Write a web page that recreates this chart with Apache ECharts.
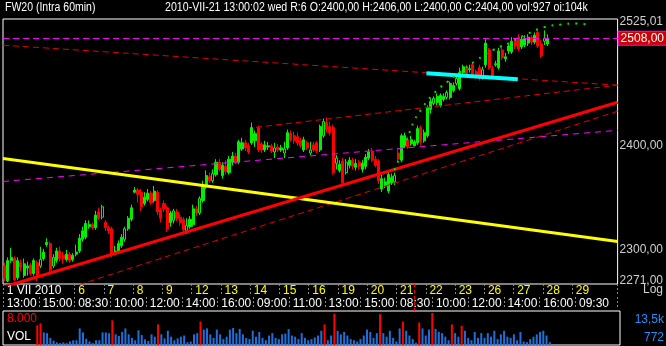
<!DOCTYPE html>
<html><head><meta charset="utf-8">
<script src="https://cdn.jsdelivr.net/npm/echarts@6/dist/echarts.min.js"></script>
<style>html,body{margin:0;padding:0;background:#000}#c{width:666px;height:346px}</style>
</head><body><div id="c"></div>
<script>
// ---- categories (trading calendar, July 2010) ----
const tradingDays = [1,2,5,6,7,8,9,12,13,14,15,16,19,20,21,22,23,26,27,28,29,30];
const sessionHours = ['08:30','09:00','10:00','11:00','12:00','13:00','14:00','15:00','16:00'];
const futureHours = ['08:30','09:30','10:30','11:30','12:30','13:30','14:30','15:30','16:30'];
const firstBarHour = '13:00';
const firstFutureDay = 29;
const totalSlots = 189;
const firstDateLabel = '1 VII 2010';

// ---- 60 min candles ----
const opens = [2285,2271,2290,2292,2274,2288,2276,2283,2286,2278,2288,2285,2292,2305,2306,2285,2290,2299,2295,2291,2296,2291,2296,2299,2310,2312,2322,2324,2321,2336,
2331,2326,2321,2320,2297,2299,2304,2310,2320,2329,2355,2357,2355,2344,2348,2354,2347,2355,2338,2344,2340,2326,2328,2336,2331,2329,2318,2322,2324,2339,
2335,2347,2360,2370,2366,2372,2384,2371,2380,2374,2384,2390,2384,2397,2403,2400,2403,2405,2418,2402,2396,2399,2400,2394,2399,2396,2393,2398,2412,2410,
2409,2405,2396,2403,2393,2401,2403,2396,2410,2423,2419,2418,2383,2376,2385,2374,2381,2386,2379,2384,2377,2380,2388,2395,2387,2385,2358,2361,2356,2364,
2365,2393,2386,2400,2406,2402,2400,2403,2418,2405,2410,2436,2442,2443,2440,2446,2448,2448,2455,2462,2457,2473,2478,2476,2481,2474,2478,2469,2481,2496,
2477,2481,2478,2496,2487,2495,2494,2505,2509,2499,2501,2503,2509,2504,2514,2502,2505,2502];
const highs = [2288,2293,2302,2294,2293,2291,2292,2289,2288,2292,2290,2303,2301,2311,2308,2296,2302,2303,2298,2300,2298,2297,2305,2315,2322,2328,2328,2326,2337,2340,
2343,2328,2323,2322,2304,2309,2315,2322,2332,2343,2360,2359,2358,2355,2358,2356,2361,2357,2340,2347,2342,2337,2339,2339,2334,2331,2330,2332,2343,2342,
2351,2366,2376,2374,2377,2387,2387,2384,2386,2390,2394,2393,2406,2408,2406,2403,2423,2415,2420,2404,2405,2404,2402,2403,2402,2401,2404,2416,2415,2414,
2413,2408,2409,2405,2404,2404,2405,2421,2427,2428,2424,2421,2391,2386,2388,2387,2389,2388,2387,2386,2386,2392,2397,2398,2390,2387,2372,2369,2376,2373,
2374,2398,2412,2413,2409,2410,2406,2420,2420,2416,2440,2447,2449,2452,2452,2452,2455,2464,2463,2469,2478,2481,2481,2481,2484,2476,2481,2479,2507,2498,
2480,2485,2498,2499,2493,2502,2509,2508,2512,2510,2511,2512,2511,2514,2516,2506,2516,2512];
const lows = [2271,2270,2288,2271,2272,2280,2274,2276,2276,2276,2271,2283,2290,2303,2279,2283,2288,2289,2287,2289,2288,2289,2294,2297,2308,2310,2320,2319,2319,2328,
2329,2318,2315,2293,2295,2297,2302,2308,2318,2327,2354,2345,2337,2342,2346,2343,2345,2333,2326,2336,2317,2322,2325,2327,2323,2316,2315,2320,2322,2332,
2333,2345,2358,2364,2364,2370,2375,2368,2372,2372,2381,2382,2382,2395,2395,2392,2401,2399,2394,2393,2394,2396,2393,2388,2394,2394,2388,2396,2404,2402,
2400,2398,2394,2396,2391,2394,2393,2394,2408,2413,2410,2372,2377,2374,2362,2372,2378,2377,2376,2377,2374,2377,2386,2384,2379,2363,2355,2359,2354,2362,
2362,2385,2384,2398,2397,2400,2400,2401,2401,2403,2408,2432,2440,2440,2438,2444,2446,2446,2453,2460,2455,2470,2470,2473,2468,2467,2465,2466,2478,2476,
2468,2479,2476,2486,2484,2492,2492,2497,2495,2497,2499,2500,2501,2502,2498,2488,2501,2500];
const closes = [2273,2290,2293,2272,2290,2284,2287,2285,2278,2290,2276,2291,2298,2307,2281,2293,2299,2292,2292,2296,2290,2295,2298,2311,2318,2325,2324,2321,2333,2330,
2341,2321,2318,2296,2299,2306,2312,2320,2330,2340,2357,2353,2341,2350,2354,2345,2356,2336,2330,2339,2320,2335,2337,2330,2326,2319,2323,2329,2339,2335,
2349,2361,2371,2366,2373,2384,2377,2381,2375,2387,2390,2384,2404,2403,2398,2394,2418,2412,2396,2396,2401,2400,2395,2398,2396,2398,2397,2413,2406,2405,
2403,2400,2406,2398,2396,2396,2395,2419,2424,2416,2413,2374,2388,2382,2364,2384,2386,2380,2383,2380,2383,2389,2394,2386,2381,2366,2368,2365,2372,2369,
2371,2387,2410,2410,2399,2406,2404,2417,2404,2413,2438,2444,2447,2449,2450,2449,2453,2462,2460,2467,2473,2479,2472,2477,2470,2470,2467,2476,2503,2478,
2470,2482,2495,2488,2489,2500,2505,2500,2497,2507,2508,2509,2504,2511,2500,2490,2508,2508];
const hollowBars = [11,15,30,37,52,56,60,64,83,86,94,98,102,105,120,132,136,139,147,166];

// ---- volume ----
const volumes = [null,null,null,null,null,null,null,null,null,null,8300,9100,5300,5000,3000,1800,1100,800,1100,800,1500,2000,2000,7000,5300,2600,1500,800,2000,2000,
5300,5300,5000,10400,4500,3800,5500,7000,4500,3000,2000,6200,4200,2400,1700,4500,3500,8700,4500,2800,6000,3500,2000,2800,3500,4000,1200,1500,4500,5000,
9900,6500,7000,4500,3000,6500,4500,2500,3500,6500,7200,5000,6800,4500,3000,2500,6000,3500,5500,3000,2000,4000,5000,3000,2500,4500,4800,6700,4000,3500,
2500,5000,3000,2000,2500,3200,4000,6000,8700,2000,4000,13200,6000,4500,5500,4000,2500,2000,1500,2500,4000,6500,5500,3000,5000,13000,5000,3500,6000,3000,
1500,7000,9900,6000,4000,2500,927,9500,7000,4000,6500,13500,6800,5500,5000,3500,2000,8700,5000,3500,8100,6000,3000,2000,5500,3000,5000,3000,5000,3500,
6000,2500,4500,6000,3500,3000,4500,2000,5500,1500,1200,2500,3500,4500,5500,6000,4000,1200];
const volThreshold = 8000;
const volMax = 14340;

// ---- price axis ----
const yMin = 2268.2, yMax = 2527.8;
const yTickValues = [2271, 2300, 2400, 2525.01];
const lastPrice = 2508;

// ---- drawn trend lines: [bar index, price] ----
const yellowLine = [[-0.5, 2387.7], [188.5, 2307.9]];
const redLine = [[-0.5, 2265.2], [188.5, 2443.2]];
const redDashLow = [[-0.5, 2244.9], [188.5, 2434.2]];
const redDashChannel = [[77.3, 2418.3], [188.5, 2460.3]];
const redDashTop = [[-0.5, 2500.9], [188.5, 2460.3]];
const magentaChannel = [[-0.5, 2365.3], [188.5, 2415.3]];
const cyanLine = [[129.7, 2472.4], [157.8, 2466.3]];
const greenArc = [[118.95,2369.2],[120.48,2380.9],[122.01,2392.6],[123.54,2405.4],[124.77,2415.3],[125.99,2425.2],[128.14,2436.2],
[129.67,2443.2],[131.2,2449.2],[133.35,2456.3],[136.41,2464.3],[140.09,2473.4],[144.68,2484.6],[150.19,2495.9],[155.7,2504.0],
[159.99,2511.2],[166.11,2519.5],[171.0,2522.1],[175.61,2523.1],[179.28,2522.1]];
const cursorBar = 126;

const UP = '#00ee00', DOWN = '#ff0000';
const L = Math.log;
const fmt = v => v.toFixed(2).replace('.', ',');

// build category list
const cats = [];
tradingDays.forEach(d => {
  const hrs = d >= firstFutureDay ? futureHours : sessionHours;
  hrs.forEach(h => { if (d === tradingDays[0] && h < firstBarHour) return; cats.push(d + '|' + h); });
});
cats.length = totalSlots;
const dayStart = new Set();
cats.forEach((c, i) => { if (i === 0 || c.split('|')[0] !== cats[i - 1].split('|')[0]) dayStart.add(i); });
const timeEvery = 11, labelLimit = 180, firstLabelRoom = 20;
const showDate = i => dayStart.has(i) && (i === 0 || i >= firstLabelRoom) && i < labelLimit;
const showTime = i => i % timeEvery === 0 && i < labelLimit;

const candleData = opens.map((o, i) => {
  const v = [L(o), L(closes[i]), L(lows[i]), L(highs[i])];
  return hollowBars.includes(i) ? { value: v, itemStyle: { color: '#000' } } : v;
});
const volData = volumes.map(v => v == null ? '-' : { value: v, itemStyle: { color: v > volThreshold ? '#ff0000' : '#1f6fd8' } });

function trend(pts, color, width, type, smooth) {
  return { type: 'line', xAxisIndex: 3, yAxisIndex: 0, data: pts.map(p => [p[0], L(p[1])]),
    showSymbol: false, symbol: 'none', clip: true, silent: true, smooth: !!smooth, z: 4,
    lineStyle: { color, width, type } };
}

const font = "'Liberation Sans',Arial,sans-serif";
const chart = echarts.init(document.getElementById('c'), null, { renderer: 'canvas' });
chart.setOption({
  animation: false,
  backgroundColor: '#000',
  grid: [
    { left: 3, right: 46, top: 19, height: 265, show: true, borderColor: '#fff', borderWidth: 1, backgroundColor: '#000' },
    { left: 3, right: 46, top: 311, height: 34, show: true, borderColor: '#fff', borderWidth: 1 }
  ],
  xAxis: [
    { type: 'category', gridIndex: 0, data: cats, boundaryGap: true, position: 'bottom',
      axisLine: { show: false },
      axisTick: { show: true, length: 11, interval: showDate, lineStyle: { color: '#888', type: [2, 2] } },
      axisLabel: { show: true, interval: showDate, align: 'left', margin: 1, padding: [0, 0, 0, 2],
        fontFamily: font, fontSize: 12,
        formatter: (v, i) => i === 0 ? '{w|' + firstDateLabel + '}' : '{y|' + v.split('|')[0] + '}',
        rich: { w: { color: '#fff', fontFamily: font, fontSize: 12 }, y: { color: '#ffff00', fontFamily: font, fontSize: 12 } } },
      splitLine: { show: false } },
    { type: 'category', gridIndex: 0, data: cats, boundaryGap: true, position: 'bottom', offset: 13,
      axisLine: { show: false },
      axisTick: { show: true, length: 12, interval: showTime, lineStyle: { color: '#888', type: [2, 2] } },
      axisLabel: { show: true, interval: showTime, align: 'left', margin: 1, padding: [0, 0, 0, 2],
        color: '#fff', fontFamily: font, fontSize: 12, formatter: v => v.split('|')[1] },
      splitLine: { show: false } },
    { type: 'category', gridIndex: 1, data: cats, boundaryGap: true, show: false },
    { type: 'value', gridIndex: 0, min: -0.5, max: totalSlots - 0.5, show: false }
  ],
  yAxis: [
    { type: 'value', gridIndex: 0, position: 'right', min: L(yMin), max: L(yMax),
      axisLine: { show: false }, axisTick: { show: false }, splitLine: { show: false },
      axisLabel: { show: true, customValues: yTickValues.map(L), margin: 2, color: '#d0d0d0', fontSize: 12,
        fontFamily: font, formatter: v => fmt(Math.exp(v)) } },
    { type: 'value', gridIndex: 1, min: 0, max: volMax, show: false }
  ],
  series: [
    { type: 'candlestick', xAxisIndex: 0, yAxisIndex: 0, data: candleData, barWidth: 2.6, z: 3,
      itemStyle: { color: UP, color0: DOWN, borderColor: UP, borderColor0: DOWN, borderWidth: 1 },
      markLine: { silent: true, symbol: ['none', 'none'], animation: false, precision: 10,
        lineStyle: { color: '#ff00ff', type: [6, 4], width: 1 },
        label: { show: true, position: 'end', distance: 1, formatter: () => fmt(lastPrice), color: '#fff', fontSize: 12,
          fontFamily: font, backgroundColor: '#cc0000', borderColor: '#ff00ff', borderWidth: 1, padding: [1, 2, 0, 2] },
        data: [{ yAxis: L(lastPrice) }] } },
    trend(magentaChannel, '#ff00ff', 1, [6, 5]),
    trend(redDashTop, '#e00000', 1, [6, 4]),
    trend(redDashChannel, '#e00000', 1, [6, 4]),
    trend(redDashLow, '#e00000', 1, [6, 4]),
    trend(yellowLine, '#ffff00', 3, 'solid'),
    trend(redLine, '#ff0000', 3, 'solid'),
    trend(cyanLine, '#00ffff', 4, 'solid'),
    trend(greenArc, '#00dd00', 2, [2, 6], true),
    { type: 'bar', xAxisIndex: 2, yAxisIndex: 1, data: volData, barWidth: 2, silent: true },
    { type: 'line', xAxisIndex: 1, yAxisIndex: 0, data: [], silent: true,
      markLine: { silent: true, symbol: ['none', 'none'], label: { show: false },
        lineStyle: { color: '#ff0000', type: [3, 3], width: 1 },
        data: [[{ coord: [cursorBar, L(yMin)], y: 284 }, { coord: [cursorBar, L(yMin)], y: 311 }]] } }
  ],
  graphic: [
    { type: 'text', left: 5, top: 2, scaleX: 0.875, style: { text: 'FW20 (Intra 60min)', fill: '#fff', font: "12px 'Liberation Sans',Arial,sans-serif" } },
    { type: 'text', left: 165, top: 2, scaleX: 0.885, style: { text: '2010-VII-21 13:00:02 wed R:6 O:2400,00 H:2406,00 L:2400,00 C:2404,00 vol:927 oi:104k', fill: '#fff', font: "12px 'Liberation Sans',Arial,sans-serif" } },
    { type: 'text', right: 3, top: 284, style: { text: 'Log', fill: '#d0d0d0', font: "12px 'Liberation Sans',Arial,sans-serif" } },
    { type: 'text', left: 7, top: 313, style: { text: '8.000', fill: '#ff0000', font: "12px 'Liberation Sans',Arial,sans-serif" } },
    { type: 'text', left: 7, top: 331, style: { text: 'VOL', fill: '#ffffff', font: "12px 'Liberation Sans',Arial,sans-serif" } },
    { type: 'text', right: 2, top: 314, style: { text: '13,5k', fill: '#2a8cff', font: "12px 'Liberation Sans',Arial,sans-serif" } },
    { type: 'text', right: 2, top: 332, style: { text: '772', fill: '#2a8cff', font: "12px 'Liberation Sans',Arial,sans-serif" } }
  ]
});
</script></body></html>
